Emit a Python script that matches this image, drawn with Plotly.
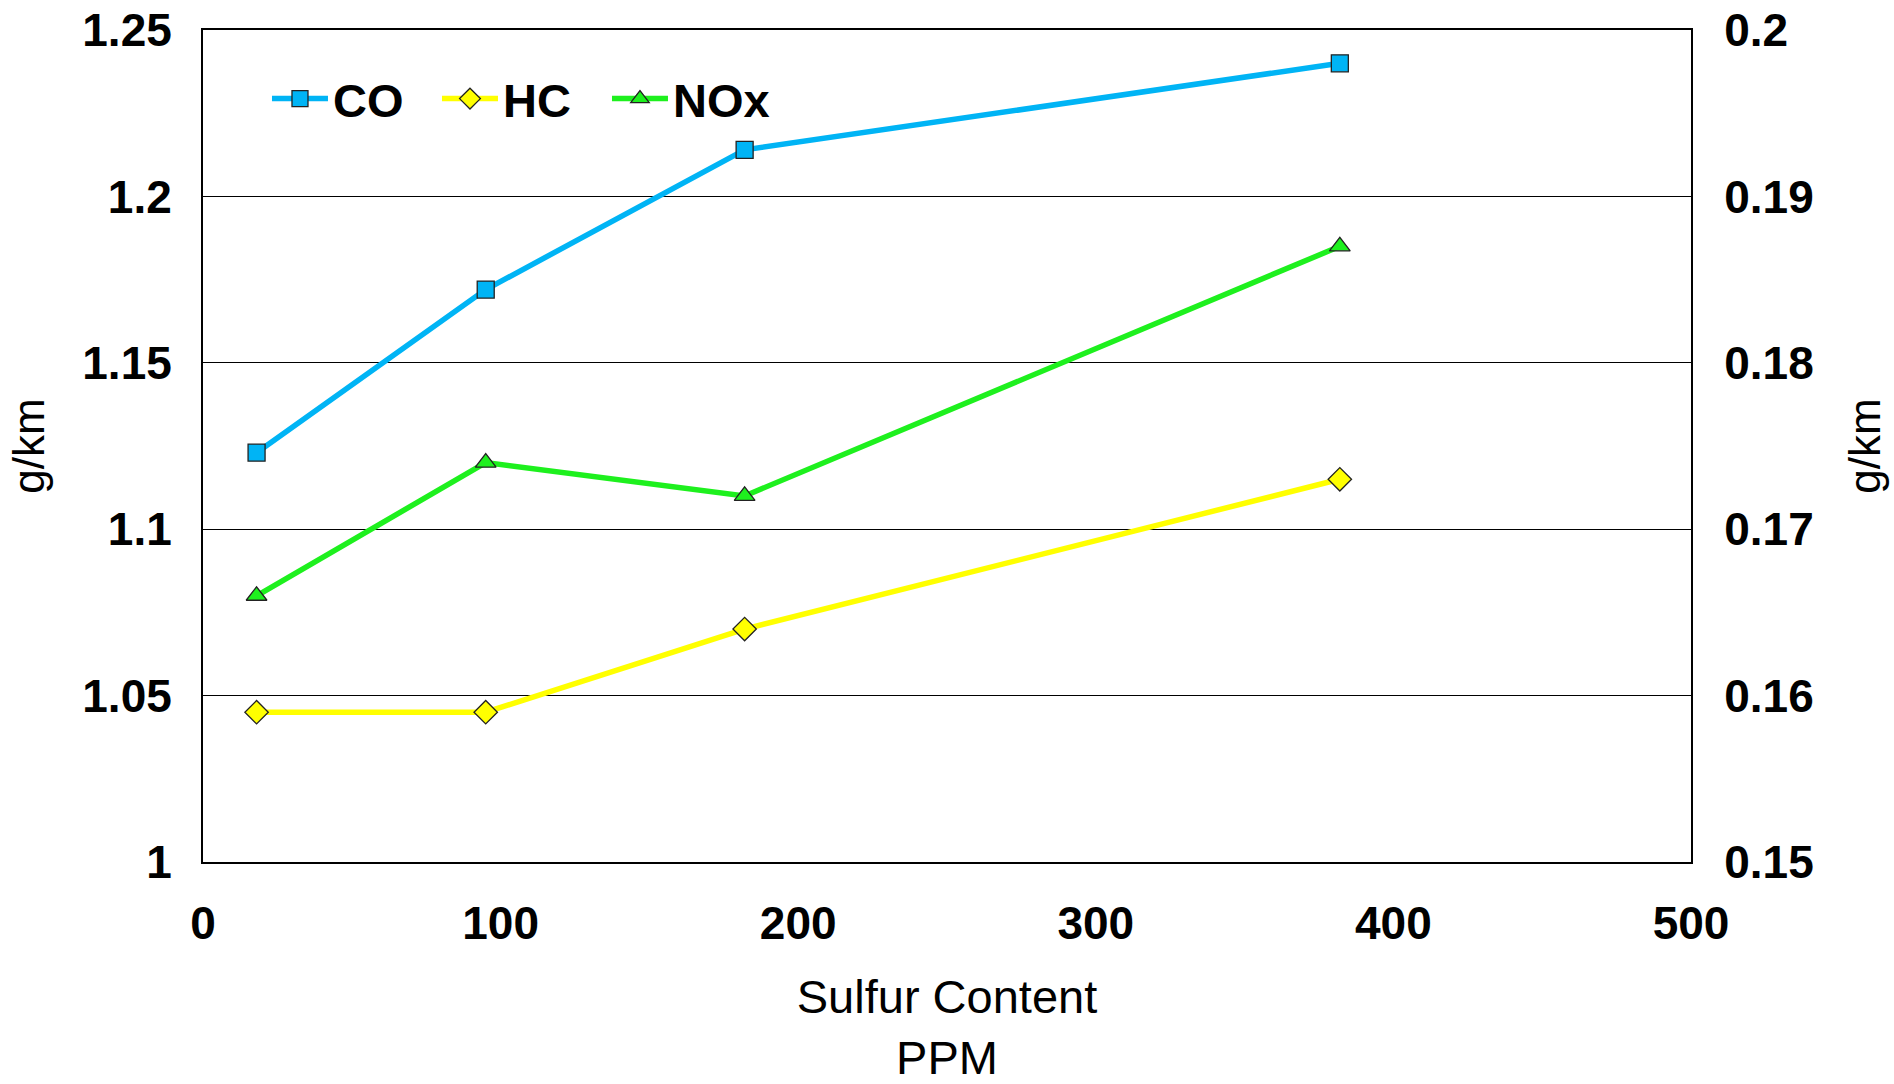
import plotly.graph_objects as go

sulfur_ppm = [18, 95, 182, 382]
co_gkm = [1.123, 1.172, 1.214, 1.240]
hc_gkm = [0.159, 0.159, 0.164, 0.173]
nox_gkm = [0.166, 0.174, 0.172, 0.187]

left_ticks = [1, 1.05, 1.1, 1.15, 1.2, 1.25]
right_ticks = [0.15, 0.16, 0.17, 0.18, 0.19, 0.2]
x_ticks = [0, 100, 200, 300, 400, 500]

FONT = "Liberation Sans, Arial, sans-serif"

fig = go.Figure()
fig.add_trace(go.Scatter(
    x=sulfur_ppm, y=co_gkm, name="CO", mode="lines+markers",
    line=dict(color="#00B4F5", width=5.5),
    marker=dict(symbol="square", size=17, color="#00B4F5",
                line=dict(color="#222222", width=1.3)),
    yaxis="y"))
fig.add_trace(go.Scatter(
    x=sulfur_ppm, y=hc_gkm, name="HC", mode="lines+markers",
    line=dict(color="#FFFF00", width=5.5),
    marker=dict(symbol="diamond", size=18, color="#FFFF00",
                line=dict(color="#222222", width=1.3)),
    yaxis="y2"))
fig.add_trace(go.Scatter(
    x=sulfur_ppm, y=nox_gkm, name="NOx", mode="lines+markers",
    line=dict(color="#1EF01E", width=5.5),
    marker=dict(symbol="triangle-up", size=18, color="#1EF01E",
                line=dict(color="#222222", width=1.3)),
    yaxis="y2"))

fig.update_layout(
    width=1894, height=1084,
    margin=dict(l=203, r=203, t=30, b=222, autoexpand=False),
    paper_bgcolor="white", plot_bgcolor="white",
    font=dict(family=FONT, color="black"),
    showlegend=True,
    legend=dict(
        orientation="h", x=0.043, xanchor="left", y=0.917, yanchor="middle",
        bgcolor="rgba(0,0,0,0)", borderwidth=0,
        font=dict(family=FONT, size=47, weight="bold", color="black"),
        itemwidth=56, entrywidth=99, entrywidthmode="pixels",
        tracegroupgap=0,
    ),
    xaxis=dict(
        range=[0, 500], tickvals=x_ticks, ticks="", showgrid=False,
        zeroline=False, showline=True, linecolor="black", linewidth=2,
        mirror=True,
        tickfont=dict(family=FONT, size=46, weight="bold", color="black"),
        ticklabelstandoff=20,
        title=dict(text="Sulfur Content<br>PPM",
                   font=dict(family=FONT, size=47, color="black"),
                   standoff=41),
    ),
    yaxis=dict(
        range=[1, 1.25], tickvals=left_ticks, ticks="", showgrid=True,
        gridcolor="black", gridwidth=1.3, zeroline=False,
        showline=True, linecolor="black", linewidth=2, mirror=True,
        tickfont=dict(family=FONT, size=46, weight="bold", color="black"),
        ticklabelstandoff=20,
        title=dict(text="g/km", font=dict(family=FONT, size=44, color="black"),
                   standoff=24),
    ),
    yaxis2=dict(
        range=[0.15, 0.2], tickvals=right_ticks, ticks="", showgrid=False,
        zeroline=False, overlaying="y", side="right",
        showline=True, linecolor="black", linewidth=2,
        tickfont=dict(family=FONT, size=46, weight="bold", color="black"),
        ticklabelstandoff=22,
        title=dict(text="g/km", font=dict(family=FONT, size=44, color="black"),
                   standoff=36),
    ),
)

fig.write_html("out.html")
